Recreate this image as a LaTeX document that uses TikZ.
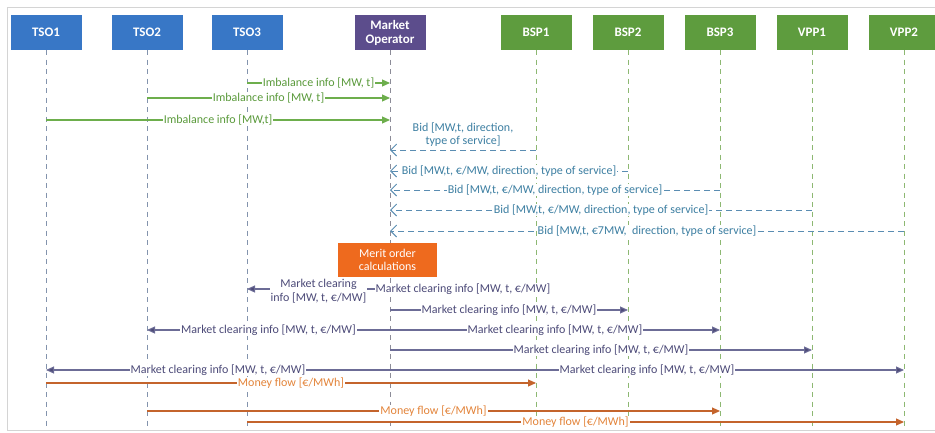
\documentclass[tikz,border=0pt]{standalone}
\usepackage{fontspec}
\setmainfont{Carlito}
\usetikzlibrary{arrows.meta,calc,positioning}
\definecolor{TsoBlue}{HTML}{3877C6}
\definecolor{MoPurple}{HTML}{5C4D8C}
\definecolor{BspGreen}{HTML}{5E9C3E}
\definecolor{MeritOrange}{HTML}{EE6A1E}
\definecolor{TsoLife}{HTML}{8393AD}
\definecolor{MoLife}{HTML}{8C8C98}
\definecolor{BspLife}{HTML}{8DB872}
\definecolor{ImbLine}{HTML}{6DAE4C}
\definecolor{ImbText}{HTML}{5A9A3B}
\definecolor{BidLine}{HTML}{5A8DB2}
\definecolor{BidText}{HTML}{3D7FA2}
\definecolor{ClrLine}{HTML}{6C6C96}
\definecolor{ClrText}{HTML}{4C4A78}
\definecolor{MoneyLine}{HTML}{C4642C}
\definecolor{MoneyText}{HTML}{E3843A}
\definecolor{Frame}{HTML}{D4D4D4}

\begin{document}
\begin{tikzpicture}[x=1pt,y=-1pt,
    actor/.style={minimum width=71pt,minimum height=35pt,inner sep=1pt,text=white,align=center,
      font=\bfseries\fontsize{13}{14}\selectfont},
    life/.style={dash pattern=on 5pt off 4.5pt,line width=0.9pt},
    lbl/.style={fill=white,inner sep=1pt,align=center,font=\fontsize{12}{13.5}\selectfont},
    imb/.style={ImbLine,line width=1.1pt,-{Triangle[length=8pt,width=7pt]},
      every node/.style={lbl,text=ImbText}},
    bid/.style={BidLine,line width=0.9pt,dash pattern=on 6pt off 4pt,
      -{Straight Barb[length=6pt,width=12pt,line width=0.9pt]},
      every node/.style={lbl,text=BidText}},
    clr/.style={ClrLine,line width=1.1pt,-{Triangle[length=8pt,width=7pt,fill=ClrText]},
      every node/.style={lbl,text=ClrText}},
    money/.style={MoneyLine,line width=1.1pt,-{Triangle[length=8pt,width=7pt]},
      every node/.style={lbl,text=MoneyText}},
    merit/.style={fill=MeritOrange,text=white,minimum width=99pt,minimum height=34pt,inner sep=1pt,
      align=center,font=\fontsize{12}{13}\selectfont}]
  \useasboundingbox (0,0) rectangle (935,432);
  \draw[Frame,line width=0.8pt] (935,7) -- (7,7) -- (7,430) -- (935,430);

  % participants and lifelines
  \foreach \name/\x/\lab/\col/\lcol in {tso1/46/TSO1/TsoBlue/TsoLife, tso2/147/TSO2/TsoBlue/TsoLife,
      tso3/247/TSO3/TsoBlue/TsoLife, mo/390/{Market\\Operator}/MoPurple/MoLife,
      bsp1/536/BSP1/BspGreen/BspLife, bsp2/628/BSP2/BspGreen/BspLife, bsp3/720/BSP3/BspGreen/BspLife,
      vpp1/812/VPP1/BspGreen/BspLife, vpp2/904/VPP2/BspGreen/BspLife} {
    \node[actor,fill=\col] (\name) at (\x,32.5) {\lab};
    \draw[life,\lcol] (\name.south) -- (\name.south |- 0,426);
  }

  % imbalance info
  \foreach \from/\y/\txt in {tso3/83/{Imbalance info [MW, t]}, tso2/98/{Imbalance info [MW, t]},
      tso1/120/{Imbalance info [MW,t]}}
    \draw[imb] (\from |- 0,\y) -- node {\txt} (mo |- 0,\y);

  % bids
  \draw[bid] (bsp1 |- 0,150) -- node[above=2pt] {Bid [MW,t, direction,\\type of service]} (mo |- 0,150);
  \foreach \from/\y/\txt in {bsp2/171/{Bid [MW,t, €/MW, direction, type of service]},
      bsp3/190/{Bid [MW,t, €/MW, direction, type of service]},
      vpp1/210/{Bid [MW,t, €/MW, direction, type of service]},
      vpp2/231/{Bid [MW,t, €7MW,\ \ direction, type of service]}}
    \draw[bid] (\from |- 0,\y) -- node {\txt} (mo |- 0,\y);

  \node[merit] (merit) at (387.5,260) {Merit order\\calculations};

  % market clearing
  \draw[clr] (mo |- 0,289) -- node[yshift=-2pt] {Market clearing\\info [MW, t, €/MW]} (tso3 |- 0,289);
  \foreach \to/\y in {bsp1/289, bsp2/310, tso2/330, bsp3/330, vpp1/350, tso1/370, vpp2/370}
    \draw[clr] (mo |- 0,\y) -- node {Market clearing info [MW, t, €/MW]} (\to |- 0,\y);

  % money flow
  \foreach \from/\to/\y in {tso1/bsp1/383, tso2/bsp3/411, tso3/vpp2/422}
    \draw[money] (\from |- 0,\y) -- node {Money flow [€/MWh]} (\to |- 0,\y);
\end{tikzpicture}
\end{document}
